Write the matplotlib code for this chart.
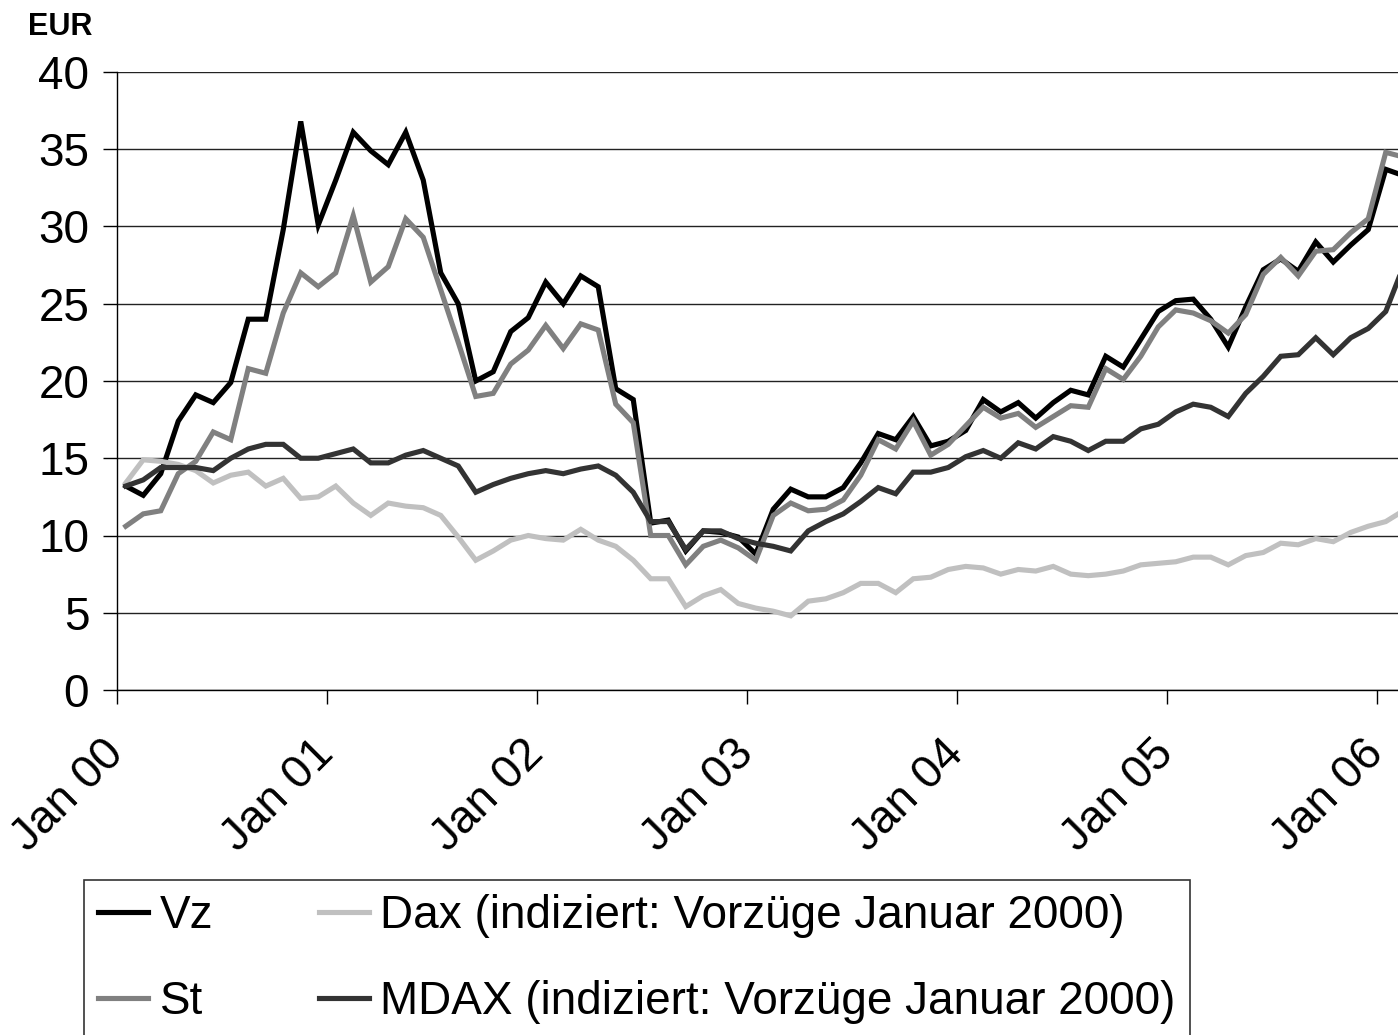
import matplotlib
matplotlib.use("Agg")
import matplotlib.pyplot as plt
import numpy as np

plt.rcParams['font.family'] = ['Liberation Sans', 'DejaVu Sans']

# monthly closing values, Jan 2000 .. Feb 2006
vz = [13.2, 12.6, 14.0, 17.4, 19.1, 18.6, 19.9, 24.0, 24.0, 29.8, 36.8, 30.1,
      33.0, 36.1, 34.9, 34.0, 36.1, 33.0, 27.0, 25.0, 20.0, 20.6, 23.2, 24.1,
      26.4, 25.0, 26.8, 26.1, 19.5, 18.8, 10.8, 11.0, 9.0, 10.3, 10.2, 9.9,
      8.8, 11.7, 13.0, 12.5, 12.5, 13.1, 14.7, 16.6, 16.2, 17.7, 15.8, 16.1,
      16.8, 18.8, 18.0, 18.6, 17.6, 18.6, 19.4, 19.1, 21.6, 20.9, 22.7, 24.5,
      25.2, 25.3, 24.0, 22.2, 24.8, 27.2, 27.9, 27.1, 29.0, 27.7, 28.8, 29.8,
      33.7, 33.3]
st = [10.6, 11.4, 11.6, 14.0, 14.8, 16.7, 16.2, 20.8, 20.5, 24.4, 27.0, 26.1,
      27.0, 30.7, 26.4, 27.4, 30.5, 29.3, 25.9, 22.5, 19.0, 19.2, 21.1, 22.0,
      23.6, 22.1, 23.7, 23.3, 18.5, 17.3, 10.0, 10.0, 8.1, 9.3, 9.7, 9.2,
      8.4, 11.3, 12.1, 11.6, 11.7, 12.3, 13.9, 16.2, 15.6, 17.4, 15.2, 15.9,
      17.1, 18.3, 17.6, 17.9, 17.0, 17.7, 18.4, 18.3, 20.8, 20.1, 21.6, 23.5,
      24.6, 24.4, 23.9, 23.1, 24.3, 26.9, 28.0, 26.8, 28.4, 28.5, 29.6, 30.5,
      34.8, 34.5]
dax = [13.4, 14.9, 14.8, 14.6, 14.2, 13.4, 13.9, 14.1, 13.2, 13.7, 12.4, 12.5,
       13.2, 12.1, 11.3, 12.1, 11.9, 11.8, 11.3, 9.9, 8.4, 9.0, 9.7, 10.0,
       9.8, 9.7, 10.4, 9.7, 9.3, 8.4, 7.2, 7.2, 5.4, 6.1, 6.5, 5.6,
       5.3, 5.1, 4.8, 5.75, 5.9, 6.3, 6.9, 6.9, 6.3, 7.2, 7.3, 7.8,
       8.0, 7.9, 7.5, 7.8, 7.7, 8.0, 7.5, 7.4, 7.5, 7.7, 8.1, 8.2,
       8.3, 8.6, 8.6, 8.1, 8.7, 8.9, 9.5, 9.4, 9.8, 9.6, 10.2, 10.6,
       10.9, 11.6]
mdax = [13.2, 13.6, 14.4, 14.4, 14.4, 14.2, 15.0, 15.6, 15.9, 15.9, 15.0, 15.0,
        15.3, 15.6, 14.7, 14.7, 15.2, 15.5, 15.0, 14.5, 12.8, 13.3, 13.7, 14.0,
        14.2, 14.0, 14.3, 14.5, 13.9, 12.8, 10.9, 10.9, 9.1, 10.3, 10.3, 9.8,
        9.5, 9.3, 9.0, 10.3, 10.9, 11.4, 12.2, 13.1, 12.7, 14.1, 14.1, 14.4,
        15.1, 15.5, 15.0, 16.0, 15.6, 16.4, 16.1, 15.5, 16.1, 16.1, 16.9, 17.2,
        18.0, 18.5, 18.3, 17.7, 19.2, 20.3, 21.6, 21.7, 22.8, 21.7, 22.8, 23.4,
        24.5, 27.4]

labels = ["Vz", "St", "Dax (indiziert: Vorzüge Januar 2000)",
          "MDAX (indiziert: Vorzüge Januar 2000)"]
colors = ["#000000", "#808080", "#c0c0c0", "#333333"]
tick_labels = ["Jan 00", "Jan 01", "Jan 02", "Jan 03", "Jan 04", "Jan 05", "Jan 06"]

W, H = 1398, 1035
fig = plt.figure(figsize=(W / 100, H / 100), dpi=100)
ax = fig.add_axes([117 / W, 1 - 690 / H, (W - 117) / W, (690 - 72) / H])

x = np.arange(len(vz)) + 0.5
for series, lab, col in zip([vz, st, dax, mdax], labels, colors):
    ax.plot(x, series, color=col, lw=3.7, label=lab, solid_joinstyle='miter')

ax.set_xlim(0, (W - 117) / 17.5)
ax.set_ylim(0, 40)
ax.set_yticks(np.arange(0, 41, 5))
ax.set_xticks(np.arange(len(tick_labels)) * 12)
ax.set_xticklabels(tick_labels, rotation=45, ha='right', va='center',
                   rotation_mode='anchor')
ax.tick_params(axis='both', labelsize=33, length=10, width=1, direction='out')
ax.tick_params(axis='y', pad=10)
ax.tick_params(axis='x', pad=31)
ax.yaxis.grid(True, color='#222222', lw=1)
ax.set_axisbelow(True)
for s in ['top', 'right']:
    ax.spines[s].set_visible(False)
for s in ['left', 'bottom']:
    ax.spines[s].set_linewidth(1)
    ax.spines[s].set_color('black')

fig.text(28 / W, 1 - 27 / H, "EUR", fontsize=22, fontweight='bold', va='center')

leg = fig.legend(loc='upper left', bbox_to_anchor=(84 / W, 1 - 880 / H),
                 ncol=2, fontsize=33, frameon=True, fancybox=False,
                 borderaxespad=0, borderpad=0.3, handlelength=1.1,
                 handletextpad=0.25, columnspacing=2.3, labelspacing=0.92)
leg.get_frame().set_edgecolor('black')
leg.get_frame().set_linewidth(1.2)

fig.savefig("out.png", dpi=100)
